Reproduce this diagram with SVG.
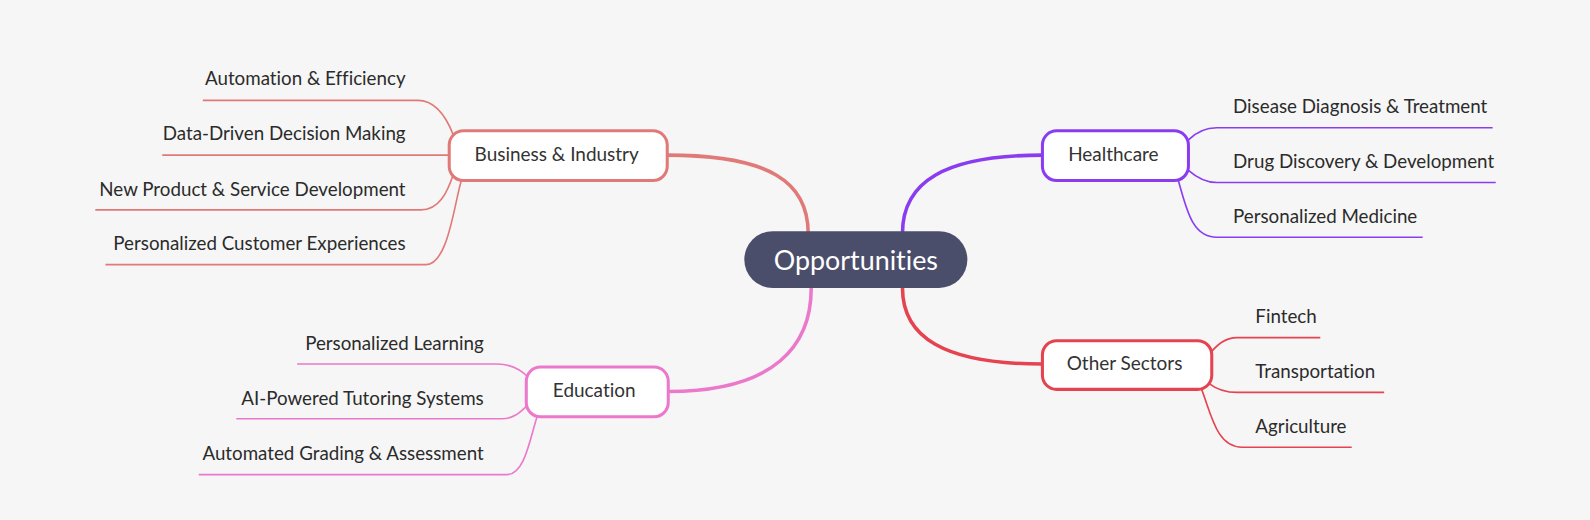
<svg xmlns="http://www.w3.org/2000/svg" width="1590" height="520" viewBox="0 0 1590 520">
<style>
.bg{fill:#f6f6f6}
text{font-variant-ligatures:none}
.leaf{font-family:Lato,"Noto Sans",sans-serif;font-size:18.5px;fill:#2b2b2b}
.ntxt{font-family:Lato,"Noto Sans",sans-serif;font-size:18.7px;fill:#333;text-anchor:middle}
.box{fill:#fff;stroke-width:3}
.main{fill:none;stroke-width:3.5;stroke-linecap:round}
.thin{fill:none;stroke-width:1.6}
.biz{stroke:#e07a78}
.hc{stroke:#8a3cf0}
.oth{stroke:#e5434f}
.edu{stroke:#ec78cc}
</style>
<rect class="bg" x="0" y="0" width="1590" height="520"/>
<g transform="scale(1.01403)">
<g id="connectors">
<path class="main biz" d="M797 230 C797 180 760 153 658 153"/>
<path class="main hc" d="M890 230 C890 180 930 153 1028 153"/>
<path class="main oth" d="M890 284 C890 332 930 359 1028 359"/>
<path class="main edu" d="M800 284 C800 340 765 386 659 386"/>
<path class="thin biz" d="M200 99 L412 99 C430 99 440 115 447 133"/>
<path class="thin biz" d="M160 153 L443 153"/>
<path class="thin biz" d="M94 207 L415 207 C433 207 441 190 447 172"/>
<path class="thin biz" d="M104 261 L420 261 C442 261 448 200 455 178"/>
<path class="thin edu" d="M293 359 L490 359 C505 359 514 365 521 372"/>
<path class="thin edu" d="M233 413 L495 413 C508 413 514 405 521 399"/>
<path class="thin edu" d="M196 468 L500 468 C518 468 523 430 530 410"/>
<path class="thin hc" d="M1172 138 C1180 130 1188 126 1200 126 L1472 126"/>
<path class="thin hc" d="M1172 168 C1180 175 1188 180 1200 180 L1475 180"/>
<path class="thin hc" d="M1162 178 C1170 205 1175 234 1200 234 L1403 234"/>
<path class="thin oth" d="M1192 350 C1200 340 1208 333 1220 333 L1302 333"/>
<path class="thin oth" d="M1192 378 C1200 384 1208 387 1220 387 L1365 387"/>
<path class="thin oth" d="M1185 384 C1195 410 1200 441 1225 441 L1333 441"/>
</g>
<g id="center">
<rect x="734" y="228" width="220" height="56" rx="28" fill="#4b4e6a"/>
<text x="844" y="266" font-family="Lato,'Noto Sans',sans-serif" font-size="26.5" fill="#fff" text-anchor="middle">Opportunities</text>
</g>
<g id="business">
<rect class="box biz" x="443" y="129" width="215" height="49" rx="14"/>
<text class="ntxt" x="549" y="159">Business &amp; Industry</text>
</g>
<g id="healthcare">
<rect class="box hc" x="1028" y="129" width="144" height="49" rx="14"/>
<text class="ntxt" x="1098" y="159">Healthcare</text>
</g>
<g id="other">
<rect class="box oth" x="1028" y="336" width="167" height="48" rx="14"/>
<text class="ntxt" x="1109" y="365">Other Sectors</text>
</g>
<g id="education">
<rect class="box edu" x="519" y="362" width="140" height="49" rx="14"/>
<text class="ntxt" x="586" y="392">Education</text>
</g>
<g id="biz-leaves" text-anchor="end">
<text class="leaf" x="400" y="84">Automation &amp; Efficiency</text>
<text class="leaf" x="400" y="138">Data-Driven Decision Making</text>
<text class="leaf" x="400" y="193">New Product &amp; Service Development</text>
<text class="leaf" x="400" y="247">Personalized Customer Experiences</text>
</g>
<g id="edu-leaves" text-anchor="end">
<text class="leaf" x="477" y="345">Personalized Learning</text>
<text class="leaf" x="477" y="399">AI-Powered Tutoring Systems</text>
<text class="leaf" x="477" y="454">Automated Grading &amp; Assessment</text>
</g>
<g id="hc-leaves">
<text class="leaf" x="1216" y="111">Disease Diagnosis &amp; Treatment</text>
<text class="leaf" x="1216" y="166">Drug Discovery &amp; Development</text>
<text class="leaf" x="1216" y="220">Personalized Medicine</text>
</g>
<g id="other-leaves">
<text class="leaf" x="1238" y="319">Fintech</text>
<text class="leaf" x="1238" y="373">Transportation</text>
<text class="leaf" x="1238" y="427">Agriculture</text>
</g>
</g>
</svg>
